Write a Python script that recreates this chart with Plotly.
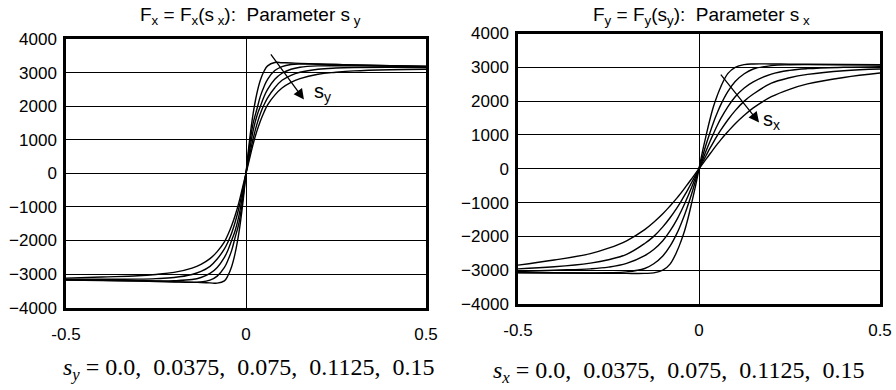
import plotly.graph_objects as go

W, H = 896, 390

# slip values (positive half); negative half read at the mirrored slips
S = [0.01, 0.02, 0.03, 0.04, 0.05, 0.06, 0.08, 0.10, 0.125, 0.15, 0.2, 0.25, 0.3, 0.4, 0.5]
PARAMS = ["0.0", "0.0375", "0.075", "0.1125", "0.15"]

# Left panel: Fx(sx) for s_y = 0 ... 0.15 (values read at +S and at -S)
FX_POS = [
    [1000, 1790, 2370, 2780, 3040, 3200, 3300, 3295, 3285, 3275, 3255, 3240, 3225, 3205, 3190],
    [850, 1500, 1900, 2300, 2580, 2800, 3060, 3180, 3240, 3255, 3250, 3240, 3225, 3205, 3185],
    [680, 1280, 1700, 2000, 2280, 2500, 2800, 2980, 3100, 3160, 3200, 3205, 3200, 3190, 3175],
    [540, 1040, 1450, 1780, 2040, 2250, 2550, 2770, 2920, 3010, 3100, 3135, 3150, 3155, 3150],
    [440, 880, 1250, 1560, 1820, 2040, 2330, 2540, 2710, 2820, 2950, 3010, 3050, 3085, 3100],
]
FX_NEG = [
    [-1000, -1790, -2370, -2780, -3040, -3200, -3270, -3260, -3250, -3240, -3225, -3210, -3200, -3185, -3170],
    [-850, -1500, -1900, -2300, -2580, -2800, -3060, -3180, -3235, -3245, -3235, -3220, -3210, -3190, -3175],
    [-680, -1280, -1700, -2000, -2280, -2500, -2800, -2980, -3100, -3160, -3195, -3200, -3195, -3185, -3170],
    [-540, -1040, -1450, -1780, -2040, -2250, -2550, -2770, -2920, -3010, -3100, -3135, -3150, -3155, -3150],
    [-440, -880, -1250, -1560, -1820, -2040, -2330, -2540, -2710, -2820, -2950, -3010, -3050, -3085, -3120],
]

# Right panel: Fy(sy) for s_x = 0 ... 0.15
FY_POS = [
    [530, 1000, 1450, 1840, 2150, 2420, 2820, 3000, 3080, 3100, 3100, 3095, 3090, 3085, 3080],
    [370, 730, 1060, 1370, 1640, 1890, 2290, 2580, 2810, 2950, 3050, 3075, 3080, 3075, 3070],
    [270, 540, 800, 1040, 1270, 1480, 1840, 2130, 2390, 2570, 2800, 2910, 2960, 3000, 3020],
    [200, 400, 600, 790, 970, 1140, 1450, 1720, 2000, 2210, 2530, 2690, 2790, 2900, 2950],
    [145, 290, 435, 580, 720, 855, 1100, 1330, 1580, 1800, 2130, 2350, 2510, 2700, 2830],
]
FY_NEG = [
    [-530, -1000, -1450, -1840, -2150, -2420, -2820, -3000, -3080, -3095, -3095, -3090, -3090, -3085, -3080],
    [-370, -730, -1060, -1370, -1640, -1890, -2290, -2580, -2810, -2950, -3050, -3075, -3080, -3075, -3070],
    [-270, -540, -800, -1040, -1270, -1480, -1840, -2130, -2390, -2570, -2800, -2910, -2960, -3000, -3040],
    [-200, -400, -600, -790, -970, -1140, -1450, -1720, -2000, -2210, -2530, -2690, -2790, -2900, -2960],
    [-145, -290, -435, -580, -720, -855, -1100, -1330, -1580, -1800, -2130, -2350, -2510, -2700, -2850],
]

Y_TICKS = [-4000, -3000, -2000, -1000, 0, 1000, 2000, 3000, 4000]
X_TICKS = [-0.5, 0, 0.5]
X_TICK_TEXT = ["-0.5", "0", "0.5"]

SANS = "Liberation Sans, Arial, sans-serif"
SERIF = "Liberation Serif, Times New Roman, serif"

fig = go.Figure()

def full_curve(pos, neg):
    xs = [-s for s in reversed(S)] + [0] + S
    ys = list(reversed(neg)) + [0] + pos
    return xs, ys

for i in range(5):
    xs, ys = full_curve(FX_POS[i], FX_NEG[i])
    fig.add_trace(go.Scatter(x=xs, y=ys, mode="lines", xaxis="x", yaxis="y",
                             line=dict(color="black", width=1.4, shape="spline", smoothing=1.1),
                             name="s_y=" + PARAMS[i], showlegend=False, hoverinfo="skip"))
    xs, ys = full_curve(FY_POS[i], FY_NEG[i])
    fig.add_trace(go.Scatter(x=xs, y=ys, mode="lines", xaxis="x2", yaxis="y2",
                             line=dict(color="black", width=1.4, shape="spline", smoothing=1.1),
                             name="s_x=" + PARAMS[i], showlegend=False, hoverinfo="skip"))

def xax(dom, anchor):
    return dict(domain=dom, anchor=anchor, range=[-0.5, 0.5], showgrid=False,
                zeroline=True, zerolinecolor="black", zerolinewidth=1.4,
                showline=True, mirror=True, linecolor="black", linewidth=2.5,
                tickvals=X_TICKS, ticktext=X_TICK_TEXT, ticks="outside", ticklen=9,
                tickcolor="rgba(0,0,0,0)", tickfont=dict(family=SANS, size=17, color="black"),
                fixedrange=True, automargin=False)

def yax(dom, anchor):
    return dict(domain=dom, anchor=anchor, range=[-4000, 4000], tickvals=Y_TICKS,
                showgrid=True, gridcolor="black", gridwidth=1.4,
                zeroline=True, zerolinecolor="black", zerolinewidth=1.4,
                showline=True, mirror=True, linecolor="black", linewidth=2.5,
                ticks="outside", ticklen=3, tickcolor="rgba(0,0,0,0)",
                tickfont=dict(family=SANS, size=17, color="black"), fixedrange=True,
                automargin=False)

fig.update_layout(
    width=W, height=H, margin=dict(l=0, r=0, t=0, b=0, autoexpand=False),
    paper_bgcolor="white", plot_bgcolor="white", showlegend=False,
    xaxis=xax([66 / W, 426 / W], "y"),
    yaxis=yax([(H - 307.7) / H, (H - 39) / H], "x"),
    xaxis2=xax([518 / W, 880 / W], "y2"),
    yaxis2=yax([(H - 304) / H, (H - 33.5) / H], "x2"),
)

ann = []
# titles
ann.append(dict(x=250 / W, y=1 - 16 / H, xref="paper", yref="paper", showarrow=False,
                text="F<sub>x</sub> = F<sub>x</sub>(s<sub> x</sub>):&nbsp; Parameter s<sub> y</sub>",
                font=dict(family=SANS, size=19, color="black"), xanchor="center", yanchor="middle"))
ann.append(dict(x=701 / W, y=1 - 16 / H, xref="paper", yref="paper", showarrow=False,
                text="F<sub>y</sub> = F<sub>y</sub>(s<sub>y</sub>):&nbsp; Parameter s<sub> x</sub>",
                font=dict(family=SANS, size=19, color="black"), xanchor="center", yanchor="middle"))
# arrows
ann.append(dict(x=0.161, y=2196, ax=0.066, ay=3590, xref="x", yref="y", axref="x", ayref="y",
                text="", showarrow=True, arrowhead=2, arrowsize=1.6, arrowwidth=1.3,
                arrowcolor="black", standoff=0))
ann.append(dict(x=0.183, y=2400, xref="x", yref="y", text="s<sub>y</sub>", showarrow=False,
                xanchor="left", yanchor="middle", font=dict(family=SANS, size=20, color="black")))
ann.append(dict(x=0.166, y=1370, ax=0.057, ay=2830, xref="x2", yref="y2", axref="x2", ayref="y2",
                text="", showarrow=True, arrowhead=2, arrowsize=1.6, arrowwidth=1.3,
                arrowcolor="black", standoff=0))
ann.append(dict(x=0.171, y=1420, xref="x2", yref="y2", text="s<sub>x</sub>", showarrow=False,
                xanchor="left", yanchor="middle", font=dict(family=SANS, size=20, color="black")))
# parameter captions
ann.append(dict(x=248 / W, y=1 - 369 / H, xref="paper", yref="paper", showarrow=False,
                text="<i>s</i><sub><i>y</i></sub> = 0.0,&nbsp; 0.0375,&nbsp; 0.075,&nbsp; 0.1125,&nbsp; 0.15",
                font=dict(family=SERIF, size=24, color="black"), xanchor="center", yanchor="middle"))
ann.append(dict(x=678 / W, y=1 - 372 / H, xref="paper", yref="paper", showarrow=False,
                text="<i>s</i><sub><i>x</i></sub> = 0.0,&nbsp; 0.0375,&nbsp; 0.075,&nbsp; 0.1125,&nbsp; 0.15",
                font=dict(family=SERIF, size=24, color="black"), xanchor="center", yanchor="middle"))
fig.update_layout(annotations=ann)

fig.write_html("out.html")
